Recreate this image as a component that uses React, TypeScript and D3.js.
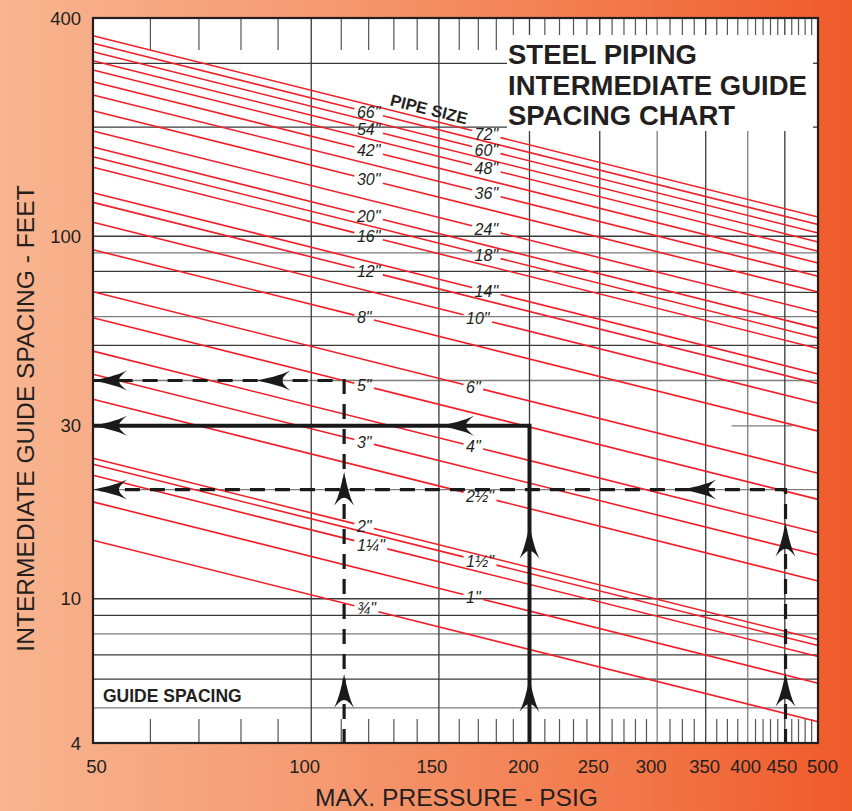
import React from "react";
import * as d3 from "d3";

// ---------- data ----------
const pipeSizes = ['72"', '66"', '60"', '54"', '48"', '42"', '36"', '30"', '24"', '20"', '18"', '16"', '14"', '12"', '10"', '8"', '6"', '5"', '4"', '3"', '2½"', '2"', '1½"', '1¼"', '1"', '¾"'];
// guide spacing (ft) read at 50 psig (left edge) and 500 psig (right edge)
const spacingAt50psig = [357.5, 340.6, 322.9, 305, 287.4, 266.9, 245.3, 222, 195.1, 176.2, 165.7, 155, 131.9, 124, 109.3, 91.8, 70.3, 59.6, 48.2, 41.6, 35.5, 24.4, 23.5, 21.9, 18.5, 14.5];
const spacingAt500psig = [113.0, 107.7, 102.1, 96.4, 90.9, 84.4, 77.6, 70.2, 61.7, 55.7, 52.4, 49.0, 41.7, 39.2, 34.6, 29.0, 22.2, 18.8, 15.2, 13.2, 11.2, 7.72, 7.43, 6.93, 5.85, 4.58];
const labelSide = ["R", "L", "R", "L", "R", "L", "R", "L", "R", "L", "R", "L", "R", "L", "R", "L", "R", "L", "R", "L", "R", "L", "R", "L", "R", "L"];

const xMajorTicks = [50, 100, 150, 200, 250, 300, 350, 400, 450, 500];
const xMinorTicks = [60, 70, 80, 90, 110, 120, 130, 140, 160, 170, 180, 190, 210, 220, 230, 240, 260, 270, 280, 290, 312.5, 325, 337.5, 362.5, 375, 387.5, 410, 420, 430, 440, 460, 470, 480, 490];
const yTickLabels = [4, 10, 30, 100, 400];
const yGridValues = [5, 6, 7, 8, 9, 10, 20, 40, 50, 60, 70, 80, 90, 100, 200, 300];
const yGridLight = [5, 8, 20, 40, 60, 90];
const xGridLight = [300, 400];

// worked example for the 5" pipe
const guidePsig = [111, 200, 451];
const guideFeet = [40, 30, 20];
const guideDashed = [true, false, true];
const guideUpArrowFeet = [[6.2, 22.4], [6.04, 16], [6.25, 16.2]];
const guideLeftArrowPsig = [[50, 84], [50, 150.5], [50, 325]];

const chartTitle = ["STEEL PIPING", "INTERMEDIATE GUIDE", "SPACING CHART"];
const xTitle = "MAX. PRESSURE - PSIG";
const yTitle = "INTERMEDIATE GUIDE SPACING - FEET";
const xTickLabelNudge = [3.5, -6.5, -7, -6, -6.5, -6, -1, -2, -3, 4.5];

// ---------- layout ----------
const W = 852, H = 811;
const L = 93, R = 818, T = 18, B = 743;
const FONT = "'Liberation Sans', Arial, Helvetica, sans-serif";
const INK = "#231f20";
const RED = "#ee2027";
const DARK = "#3a3a3a";
const GRAY = "#7d7d7d";
const ARROW = "M0,0 C2,10 5,24 10,34 C6,29 3,26 0,26 C-3,26 -6,29 -10,34 C-5,24 -2,10 0,0 Z";
const LABEL_FS = 16;

export default function App() {
  const x = d3.scaleLog().domain([50, 500]).range([L, R]);
  const y = d3.scaleLog().domain([4, 400]).range([B, T]);

  const charW = (c: string) => (/[0-9]/.test(c) ? 0.556 : c === '"' ? 0.355 : 0.834);
  const textWidth = (s: string) => Array.from(s).reduce((a, c) => a + charW(c), 0) * LABEL_FS;

  const lines = pipeSizes.map((p, i) => {
    const x0 = x(50), y0 = y(spacingAt50psig[i]);
    const x1 = x(500), y1 = y(spacingAt500psig[i]);
    const startP = labelSide[i] === "L" ? 115.6 : i <= 12 ? 168 : 163.5;
    const lx = x(startP);
    const w = textWidth(p);
    const g0 = lx - 2.5, g1 = lx + w + 2.5;
    const yAt = (xx: number) => y0 + ((y1 - y0) * (xx - x0)) / (x1 - x0);
    return { p, x0, y0, x1, y1, g0, g1, yAt, lx, cy: yAt(lx + w / 2) };
  });

  return (
    <svg width={W} height={H} style={{ position: "absolute", left: 0, top: 0, display: "block" }} fontFamily={FONT}>
      <defs>
        <linearGradient id="bg" x1="0" y1="0" x2="1" y2="0">
          <stop offset="0" stopColor="#f8b590" />
          <stop offset="0.35" stopColor="#f59c74" />
          <stop offset="0.7" stopColor="#f27b4d" />
          <stop offset="1" stopColor="#ef5a2b" />
        </linearGradient>
      </defs>
      <rect x={0} y={0} width={W} height={H} fill="url(#bg)" />
      <rect x={L} y={T} width={R - L} height={B - T} fill="#fff" />

      {/* horizontal grid */}
      {yGridValues.map((v) => (
        <line key={"hy" + v} x1={L} x2={R} y1={y(v)} y2={y(v)} stroke={yGridLight.includes(v) ? GRAY : DARK} strokeWidth={1.3} />
      ))}
      <line x1={x(380)} x2={x(460)} y1={y(30)} y2={y(30)} stroke={GRAY} strokeWidth={1.3} />

      {/* vertical grid */}
      {xMajorTicks.slice(1, -1).map((v) => (
        <line key={"vx" + v} x1={x(v)} x2={x(v)} y1={T} y2={B} stroke={xGridLight.includes(v) ? GRAY : DARK} strokeWidth={1.3} />
      ))}
      {xMinorTicks.map((v) => (
        <g key={"mt" + v}>
          <line x1={x(v)} x2={x(v)} y1={T} y2={T + 32} stroke="#555" strokeWidth={1.2} />
          <line x1={x(v)} x2={x(v)} y1={B - 24} y2={B} stroke="#555" strokeWidth={1.2} />
        </g>
      ))}

      {/* title box */}
      <rect x={507} y={35} width={R - 507} height={96} fill="#fff" />
      {[300, 200].map((v) => (
        <line key={"stub" + v} x1={R - 5} x2={R} y1={y(v)} y2={y(v)} stroke={DARK} strokeWidth={1.3} />
      ))}

      {/* pipe size lines */}
      {lines.map((l) => (
        <g key={"pl" + l.p} stroke={RED} strokeWidth={1.6} fill="none">
          <line x1={l.x0} y1={l.y0} x2={l.g0} y2={l.yAt(l.g0)} />
          <line x1={l.g1} y1={l.yAt(l.g1)} x2={l.x1} y2={l.y1} />
        </g>
      ))}
      {lines.map((l) => (
        <text key={"lb" + l.p} x={l.lx} y={l.cy} dy="0.36em" fontSize={LABEL_FS} fontStyle="italic" fill={INK}>
          {l.p}
        </text>
      ))}
      <text x={429} y={109} dy="0.36em" textAnchor="middle" fontSize={16.5} fontWeight="bold" fill={INK} transform="rotate(14 429 109)">
        PIPE SIZE
      </text>

      {/* worked example guide lines */}
      {guidePsig.map((p, i) => (
        <g key={"gd" + i}>
          <path
            d={`M${x(p)},${B + 1} V${y(guideFeet[i])} H${L}`}
            fill="none"
            stroke="#1a1a1a"
            strokeWidth={guideDashed[i] ? 3.2 : 4}
            strokeDasharray={guideDashed[i] ? "15 10" : undefined}
            strokeLinejoin="miter"
          />
          {guideUpArrowFeet[i].map((f, j) => (
            <path key={"ua" + j} d={ARROW} fill="#1a1a1a" transform={`translate(${x(p)},${y(f)})`} />
          ))}
          {guideLeftArrowPsig[i].map((q, j) => (
            <path key={"la" + j} d={ARROW} fill="#1a1a1a" transform={`translate(${x(q)},${y(guideFeet[i])}) rotate(-90)`} />
          ))}
        </g>
      ))}

      <text x={103} y={701.7} fontSize={17.5} fontWeight="bold" fill={INK}>
        GUIDE SPACING
      </text>

      {/* border */}
      <rect x={L} y={T} width={R - L} height={B - T} fill="none" stroke={INK} strokeWidth={2.2} />

      {/* chart title */}
      {chartTitle.map((t, i) => (
        <text key={"ct" + i} x={508} y={64 + i * 30.5} fontSize={27.5} fontWeight="bold" fill={INK}>
          {t}
        </text>
      ))}

      {/* axis tick labels */}
      {yTickLabels.map((v) => (
        <text key={"yl" + v} x={81} y={y(v)} dy="0.36em" textAnchor="end" fontSize={18.5} fill={INK}>
          {v}
        </text>
      ))}
      {xMajorTicks.map((v, i) => (
        <text key={"xl" + v} x={x(v) + xTickLabelNudge[i]} y={773} textAnchor="middle" fontSize={18.5} fill={INK}>
          {v}
        </text>
      ))}

      {/* axis titles */}
      <text x={456.5} y={806} textAnchor="middle" fontSize={24.6} fill={INK}>
        {xTitle}
      </text>
      <text transform="translate(34,418.5) rotate(-90)" textAnchor="middle" fontSize={24.6} fill={INK}>
        {yTitle}
      </text>
    </svg>
  );
}
